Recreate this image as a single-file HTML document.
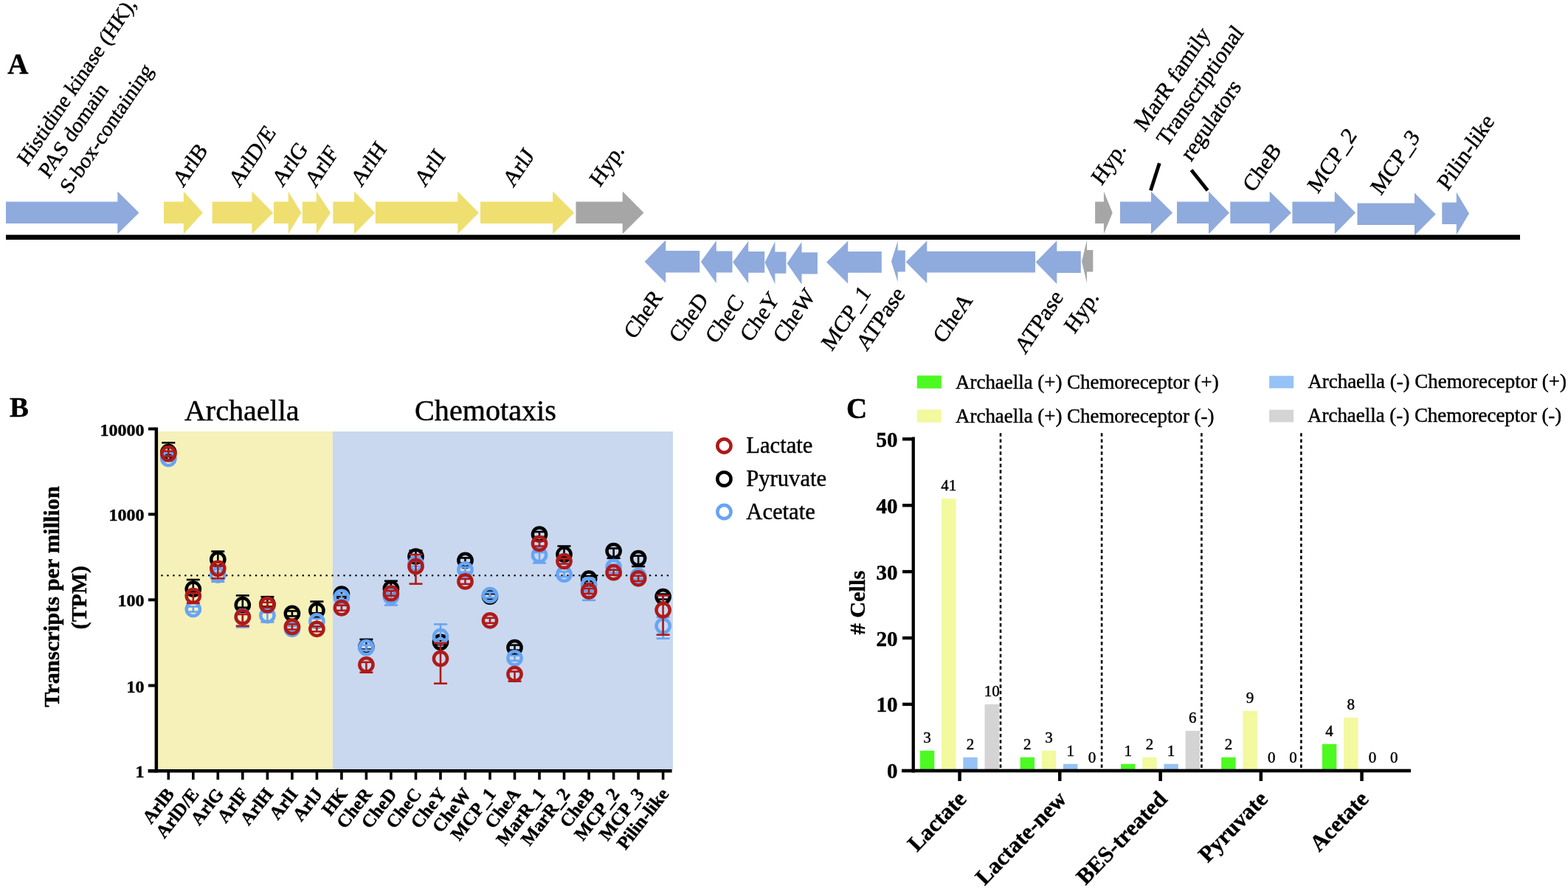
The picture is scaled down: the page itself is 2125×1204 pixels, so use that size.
<!DOCTYPE html>
<html><head><meta charset="utf-8"><title>Figure</title>
<style>html,body{margin:0;padding:0;background:#fff;}svg{display:block;}</style>
</head><body>
<svg width="2125" height="1204" viewBox="0 0 2125 1204">
<rect width="2125" height="1204" fill="#fff"/>
<polygon fill="#8FAADC" points="8.0,273.5 159.3,273.5 159.3,259.5 188.5,288.4 159.3,317.3 159.3,303.1 8.0,303.1"/>
<polygon fill="#EFDF70" points="222.0,273.5 248.8,273.5 248.8,259.5 274.9,288.4 248.8,317.3 248.8,303.1 222.0,303.1"/>
<polygon fill="#EFDF70" points="287.6,273.5 341.4,273.5 341.4,259.5 370.2,288.4 341.4,317.3 341.4,303.1 287.6,303.1"/>
<polygon fill="#EFDF70" points="371.0,273.5 390.7,273.5 390.7,259.5 408.3,288.4 390.7,317.3 390.7,303.1 371.0,303.1"/>
<polygon fill="#EFDF70" points="409.8,273.5 428.8,273.5 428.8,259.5 448.0,288.4 428.8,317.3 428.8,303.1 409.8,303.1"/>
<polygon fill="#EFDF70" points="451.3,273.5 480.0,273.5 480.0,259.5 508.2,288.4 480.0,317.3 480.0,303.1 451.3,303.1"/>
<polygon fill="#EFDF70" points="508.8,273.5 620.3,273.5 620.3,259.5 648.9,288.4 620.3,317.3 620.3,303.1 508.8,303.1"/>
<polygon fill="#EFDF70" points="651.0,273.5 749.1,273.5 749.1,259.5 778.1,288.4 749.1,317.3 749.1,303.1 651.0,303.1"/>
<polygon fill="#A6A6A6" points="780.5,273.5 843.7,273.5 843.7,259.5 872.5,288.4 843.7,317.3 843.7,303.1 780.5,303.1"/>
<polygon fill="#A6A6A6" points="1484.1,273.5 1495.9,273.5 1495.9,259.5 1507.7,288.4 1495.9,317.3 1495.9,303.1 1484.1,303.1"/>
<polygon fill="#8FAADC" points="1518.0,273.5 1559.9,273.5 1559.9,259.5 1589.2,288.4 1559.9,317.3 1559.9,303.1 1518.0,303.1"/>
<polygon fill="#8FAADC" points="1595.0,273.5 1638.0,273.5 1638.0,259.5 1666.0,288.4 1638.0,317.3 1638.0,303.1 1595.0,303.1"/>
<polygon fill="#8FAADC" points="1667.3,273.5 1720.7,273.5 1720.7,259.5 1750.0,288.4 1720.7,317.3 1720.7,303.1 1667.3,303.1"/>
<polygon fill="#8FAADC" points="1751.4,273.5 1808.8,273.5 1808.8,259.5 1837.0,288.4 1808.8,317.3 1808.8,303.1 1751.4,303.1"/>
<polygon fill="#8FAADC" points="1839.5,275.5 1917.0,275.5 1917.0,261.5 1945.7,290.4 1917.0,319.3 1917.0,305.1 1839.5,305.1"/>
<polygon fill="#8FAADC" points="1954.3,274.5 1973.8,274.5 1973.8,260.5 1991.0,289.4 1973.8,318.3 1973.8,304.1 1954.3,304.1"/>
<polygon fill="#8FAADC" points="948.2,339.9 902.2,339.9 902.2,325.6 873.6,354.7 902.2,383.8 902.2,369.4 948.2,369.4"/>
<polygon fill="#8FAADC" points="992.5,340.5 970.8,340.5 970.8,326.2 949.8,355.1 970.8,384.0 970.8,369.5 992.5,369.5"/>
<polygon fill="#8FAADC" points="1036.2,341.1 1014.2,341.1 1014.2,326.9 993.1,355.5 1014.2,384.2 1014.2,369.7 1036.2,369.7"/>
<polygon fill="#8FAADC" points="1065.4,341.4 1050.4,341.4 1050.4,327.2 1036.5,356.0 1050.4,384.9 1050.4,370.7 1065.4,370.7"/>
<polygon fill="#8FAADC" points="1107.9,342.2 1086.5,342.2 1086.5,328.0 1066.6,356.9 1086.5,385.7 1086.5,371.5 1107.9,371.5"/>
<polygon fill="#8FAADC" points="1194.8,341.1 1149.2,341.1 1149.2,326.8 1120.0,355.6 1149.2,384.4 1149.2,369.7 1194.8,369.7"/>
<polygon fill="#8FAADC" points="1226.8,339.6 1216.7,339.6 1216.7,326.4 1207.9,354.4 1216.7,382.5 1216.7,368.6 1226.8,368.6"/>
<polygon fill="#8FAADC" points="1403.0,340.7 1256.3,340.7 1256.3,326.4 1227.6,355.2 1256.3,384.0 1256.3,369.6 1403.0,369.6"/>
<polygon fill="#8FAADC" points="1464.8,340.4 1432.3,340.4 1432.3,326.3 1403.6,355.6 1432.3,384.9 1432.3,370.0 1464.8,370.0"/>
<polygon fill="#A6A6A6" points="1481.3,339.0 1473.0,339.0 1473.0,325.5 1466.0,354.6 1473.0,383.7 1473.0,368.6 1481.3,368.6"/>
<rect x="8" y="318.4" width="2052" height="6.6" fill="#000"/>
<line x1="1571.3" y1="221.2" x2="1559.4" y2="258.3" stroke="#000" stroke-width="4.8"/>
<line x1="1614.5" y1="230.5" x2="1636.6" y2="258.2" stroke="#000" stroke-width="4.8"/>
<rect x="214" y="585" width="236.8" height="458.5" fill="#F5F1B9"/>
<rect x="450.8" y="585" width="461.2" height="458.5" fill="#C9D8EE"/>
<line x1="219.5" y1="780.3" x2="912" y2="780.3" stroke="#000" stroke-width="2.6" stroke-linecap="round" stroke-dasharray="0 7.97"/>
<line x1="228.3" y1="600.3" x2="228.3" y2="616.7" stroke="#000000" stroke-width="2.6"/>
<line x1="219.3" y1="600.3" x2="237.3" y2="600.3" stroke="#000000" stroke-width="2.6"/>
<line x1="219.3" y1="616.7" x2="237.3" y2="616.7" stroke="#000000" stroke-width="2.6"/>
<circle cx="228.3" cy="613.2" r="9.1" fill="none" stroke="#000000" stroke-width="4.5"/>
<line x1="228.3" y1="618.4" x2="228.3" y2="625.4" stroke="#67A4F3" stroke-width="2.6"/>
<line x1="219.3" y1="618.4" x2="237.3" y2="618.4" stroke="#67A4F3" stroke-width="2.6"/>
<line x1="219.3" y1="625.4" x2="237.3" y2="625.4" stroke="#67A4F3" stroke-width="2.6"/>
<circle cx="228.3" cy="621.9" r="9.1" fill="none" stroke="#67A4F3" stroke-width="4.5"/>
<line x1="228.3" y1="611.7" x2="228.3" y2="618.7" stroke="#AF1A19" stroke-width="2.6"/>
<line x1="219.3" y1="611.7" x2="237.3" y2="611.7" stroke="#AF1A19" stroke-width="2.6"/>
<line x1="219.3" y1="618.7" x2="237.3" y2="618.7" stroke="#AF1A19" stroke-width="2.6"/>
<circle cx="228.3" cy="615.2" r="9.1" fill="none" stroke="#AF1A19" stroke-width="4.5"/>
<line x1="261.8" y1="786.0" x2="261.8" y2="802.2" stroke="#000000" stroke-width="2.6"/>
<line x1="252.8" y1="786.0" x2="270.8" y2="786.0" stroke="#000000" stroke-width="2.6"/>
<line x1="252.8" y1="802.2" x2="270.8" y2="802.2" stroke="#000000" stroke-width="2.6"/>
<circle cx="261.8" cy="798.7" r="9.1" fill="none" stroke="#000000" stroke-width="4.5"/>
<line x1="261.8" y1="822.5" x2="261.8" y2="829.5" stroke="#67A4F3" stroke-width="2.6"/>
<line x1="252.8" y1="822.5" x2="270.8" y2="822.5" stroke="#67A4F3" stroke-width="2.6"/>
<line x1="252.8" y1="829.5" x2="270.8" y2="829.5" stroke="#67A4F3" stroke-width="2.6"/>
<circle cx="261.8" cy="826.0" r="9.1" fill="none" stroke="#67A4F3" stroke-width="4.5"/>
<line x1="261.8" y1="804.5" x2="261.8" y2="817.7" stroke="#AF1A19" stroke-width="2.6"/>
<line x1="252.8" y1="804.5" x2="270.8" y2="804.5" stroke="#AF1A19" stroke-width="2.6"/>
<line x1="252.8" y1="817.7" x2="270.8" y2="817.7" stroke="#AF1A19" stroke-width="2.6"/>
<circle cx="261.8" cy="808.0" r="9.1" fill="none" stroke="#AF1A19" stroke-width="4.5"/>
<line x1="295.3" y1="747.6" x2="295.3" y2="762.1" stroke="#000000" stroke-width="2.6"/>
<line x1="286.3" y1="747.6" x2="304.3" y2="747.6" stroke="#000000" stroke-width="2.6"/>
<line x1="286.3" y1="762.1" x2="304.3" y2="762.1" stroke="#000000" stroke-width="2.6"/>
<circle cx="295.3" cy="758.6" r="9.1" fill="none" stroke="#000000" stroke-width="4.5"/>
<line x1="295.3" y1="776.0" x2="295.3" y2="788.8" stroke="#67A4F3" stroke-width="2.6"/>
<line x1="286.3" y1="776.0" x2="304.3" y2="776.0" stroke="#67A4F3" stroke-width="2.6"/>
<line x1="286.3" y1="788.8" x2="304.3" y2="788.8" stroke="#67A4F3" stroke-width="2.6"/>
<circle cx="295.3" cy="779.5" r="9.1" fill="none" stroke="#67A4F3" stroke-width="4.5"/>
<line x1="295.3" y1="767.3" x2="295.3" y2="784.2" stroke="#AF1A19" stroke-width="2.6"/>
<line x1="286.3" y1="767.3" x2="304.3" y2="767.3" stroke="#AF1A19" stroke-width="2.6"/>
<line x1="286.3" y1="784.2" x2="304.3" y2="784.2" stroke="#AF1A19" stroke-width="2.6"/>
<circle cx="295.3" cy="770.8" r="9.1" fill="none" stroke="#AF1A19" stroke-width="4.5"/>
<line x1="328.8" y1="807.4" x2="328.8" y2="823.7" stroke="#000000" stroke-width="2.6"/>
<line x1="319.8" y1="807.4" x2="337.8" y2="807.4" stroke="#000000" stroke-width="2.6"/>
<line x1="319.8" y1="823.7" x2="337.8" y2="823.7" stroke="#000000" stroke-width="2.6"/>
<circle cx="328.8" cy="820.2" r="9.1" fill="none" stroke="#000000" stroke-width="4.5"/>
<line x1="328.8" y1="832.5" x2="328.8" y2="850.5" stroke="#67A4F3" stroke-width="2.6"/>
<line x1="319.8" y1="832.5" x2="337.8" y2="832.5" stroke="#67A4F3" stroke-width="2.6"/>
<line x1="319.8" y1="850.5" x2="337.8" y2="850.5" stroke="#67A4F3" stroke-width="2.6"/>
<circle cx="328.8" cy="836.0" r="9.1" fill="none" stroke="#67A4F3" stroke-width="4.5"/>
<line x1="328.8" y1="833.0" x2="328.8" y2="848.7" stroke="#AF1A19" stroke-width="2.6"/>
<line x1="319.8" y1="833.0" x2="337.8" y2="833.0" stroke="#AF1A19" stroke-width="2.6"/>
<line x1="319.8" y1="848.7" x2="337.8" y2="848.7" stroke="#AF1A19" stroke-width="2.6"/>
<circle cx="328.8" cy="836.5" r="9.1" fill="none" stroke="#AF1A19" stroke-width="4.5"/>
<line x1="362.4" y1="809.2" x2="362.4" y2="822.5" stroke="#000000" stroke-width="2.6"/>
<line x1="353.4" y1="809.2" x2="371.4" y2="809.2" stroke="#000000" stroke-width="2.6"/>
<line x1="353.4" y1="822.5" x2="371.4" y2="822.5" stroke="#000000" stroke-width="2.6"/>
<circle cx="362.4" cy="819.0" r="9.1" fill="none" stroke="#000000" stroke-width="4.5"/>
<line x1="362.4" y1="830.7" x2="362.4" y2="843.5" stroke="#67A4F3" stroke-width="2.6"/>
<line x1="353.4" y1="830.7" x2="371.4" y2="830.7" stroke="#67A4F3" stroke-width="2.6"/>
<line x1="353.4" y1="843.5" x2="371.4" y2="843.5" stroke="#67A4F3" stroke-width="2.6"/>
<circle cx="362.4" cy="834.2" r="9.1" fill="none" stroke="#67A4F3" stroke-width="4.5"/>
<line x1="362.4" y1="816.7" x2="362.4" y2="823.7" stroke="#AF1A19" stroke-width="2.6"/>
<line x1="353.4" y1="816.7" x2="371.4" y2="816.7" stroke="#AF1A19" stroke-width="2.6"/>
<line x1="353.4" y1="823.7" x2="371.4" y2="823.7" stroke="#AF1A19" stroke-width="2.6"/>
<circle cx="362.4" cy="820.2" r="9.1" fill="none" stroke="#AF1A19" stroke-width="4.5"/>
<line x1="395.9" y1="828.4" x2="395.9" y2="835.4" stroke="#000000" stroke-width="2.6"/>
<line x1="386.9" y1="828.4" x2="404.9" y2="828.4" stroke="#000000" stroke-width="2.6"/>
<line x1="386.9" y1="835.4" x2="404.9" y2="835.4" stroke="#000000" stroke-width="2.6"/>
<circle cx="395.9" cy="831.9" r="9.1" fill="none" stroke="#000000" stroke-width="4.5"/>
<line x1="395.9" y1="849.3" x2="395.9" y2="856.3" stroke="#67A4F3" stroke-width="2.6"/>
<line x1="386.9" y1="849.3" x2="404.9" y2="849.3" stroke="#67A4F3" stroke-width="2.6"/>
<line x1="386.9" y1="856.3" x2="404.9" y2="856.3" stroke="#67A4F3" stroke-width="2.6"/>
<circle cx="395.9" cy="852.8" r="9.1" fill="none" stroke="#67A4F3" stroke-width="4.5"/>
<line x1="395.9" y1="846.4" x2="395.9" y2="853.4" stroke="#AF1A19" stroke-width="2.6"/>
<line x1="386.9" y1="846.4" x2="404.9" y2="846.4" stroke="#AF1A19" stroke-width="2.6"/>
<line x1="386.9" y1="853.4" x2="404.9" y2="853.4" stroke="#AF1A19" stroke-width="2.6"/>
<circle cx="395.9" cy="849.9" r="9.1" fill="none" stroke="#AF1A19" stroke-width="4.5"/>
<line x1="429.4" y1="815.6" x2="429.4" y2="831.3" stroke="#000000" stroke-width="2.6"/>
<line x1="420.4" y1="815.6" x2="438.4" y2="815.6" stroke="#000000" stroke-width="2.6"/>
<line x1="420.4" y1="831.3" x2="438.4" y2="831.3" stroke="#000000" stroke-width="2.6"/>
<circle cx="429.4" cy="827.8" r="9.1" fill="none" stroke="#000000" stroke-width="4.5"/>
<line x1="429.4" y1="838.8" x2="429.4" y2="845.8" stroke="#67A4F3" stroke-width="2.6"/>
<line x1="420.4" y1="838.8" x2="438.4" y2="838.8" stroke="#67A4F3" stroke-width="2.6"/>
<line x1="420.4" y1="845.8" x2="438.4" y2="845.8" stroke="#67A4F3" stroke-width="2.6"/>
<circle cx="429.4" cy="842.3" r="9.1" fill="none" stroke="#67A4F3" stroke-width="4.5"/>
<line x1="429.4" y1="849.3" x2="429.4" y2="856.3" stroke="#AF1A19" stroke-width="2.6"/>
<line x1="420.4" y1="849.3" x2="438.4" y2="849.3" stroke="#AF1A19" stroke-width="2.6"/>
<line x1="420.4" y1="856.3" x2="438.4" y2="856.3" stroke="#AF1A19" stroke-width="2.6"/>
<circle cx="429.4" cy="852.8" r="9.1" fill="none" stroke="#AF1A19" stroke-width="4.5"/>
<line x1="462.9" y1="802.0" x2="462.9" y2="809.0" stroke="#000000" stroke-width="2.6"/>
<line x1="453.9" y1="802.0" x2="471.9" y2="802.0" stroke="#000000" stroke-width="2.6"/>
<line x1="453.9" y1="809.0" x2="471.9" y2="809.0" stroke="#000000" stroke-width="2.6"/>
<circle cx="462.9" cy="805.5" r="9.1" fill="none" stroke="#000000" stroke-width="4.5"/>
<line x1="462.9" y1="806.3" x2="462.9" y2="813.3" stroke="#67A4F3" stroke-width="2.6"/>
<line x1="453.9" y1="806.3" x2="471.9" y2="806.3" stroke="#67A4F3" stroke-width="2.6"/>
<line x1="453.9" y1="813.3" x2="471.9" y2="813.3" stroke="#67A4F3" stroke-width="2.6"/>
<circle cx="462.9" cy="809.8" r="9.1" fill="none" stroke="#67A4F3" stroke-width="4.5"/>
<line x1="462.9" y1="820.8" x2="462.9" y2="827.8" stroke="#AF1A19" stroke-width="2.6"/>
<line x1="453.9" y1="820.8" x2="471.9" y2="820.8" stroke="#AF1A19" stroke-width="2.6"/>
<line x1="453.9" y1="827.8" x2="471.9" y2="827.8" stroke="#AF1A19" stroke-width="2.6"/>
<circle cx="462.9" cy="824.3" r="9.1" fill="none" stroke="#AF1A19" stroke-width="4.5"/>
<line x1="496.4" y1="866.9" x2="496.4" y2="880.5" stroke="#000000" stroke-width="2.6"/>
<line x1="487.4" y1="866.9" x2="505.4" y2="866.9" stroke="#000000" stroke-width="2.6"/>
<line x1="487.4" y1="880.5" x2="505.4" y2="880.5" stroke="#000000" stroke-width="2.6"/>
<circle cx="496.4" cy="877.0" r="9.1" fill="none" stroke="#000000" stroke-width="4.5"/>
<line x1="496.4" y1="874.6" x2="496.4" y2="881.6" stroke="#67A4F3" stroke-width="2.6"/>
<line x1="487.4" y1="874.6" x2="505.4" y2="874.6" stroke="#67A4F3" stroke-width="2.6"/>
<line x1="487.4" y1="881.6" x2="505.4" y2="881.6" stroke="#67A4F3" stroke-width="2.6"/>
<circle cx="496.4" cy="878.1" r="9.1" fill="none" stroke="#67A4F3" stroke-width="4.5"/>
<line x1="496.4" y1="897.8" x2="496.4" y2="911.7" stroke="#AF1A19" stroke-width="2.6"/>
<line x1="487.4" y1="897.8" x2="505.4" y2="897.8" stroke="#AF1A19" stroke-width="2.6"/>
<line x1="487.4" y1="911.7" x2="505.4" y2="911.7" stroke="#AF1A19" stroke-width="2.6"/>
<circle cx="496.4" cy="901.3" r="9.1" fill="none" stroke="#AF1A19" stroke-width="4.5"/>
<line x1="529.9" y1="787.7" x2="529.9" y2="801.5" stroke="#000000" stroke-width="2.6"/>
<line x1="520.9" y1="787.7" x2="538.9" y2="787.7" stroke="#000000" stroke-width="2.6"/>
<line x1="520.9" y1="801.5" x2="538.9" y2="801.5" stroke="#000000" stroke-width="2.6"/>
<circle cx="529.9" cy="798.0" r="9.1" fill="none" stroke="#000000" stroke-width="4.5"/>
<line x1="529.9" y1="805.5" x2="529.9" y2="820.5" stroke="#67A4F3" stroke-width="2.6"/>
<line x1="520.9" y1="805.5" x2="538.9" y2="805.5" stroke="#67A4F3" stroke-width="2.6"/>
<line x1="520.9" y1="820.5" x2="538.9" y2="820.5" stroke="#67A4F3" stroke-width="2.6"/>
<circle cx="529.9" cy="809.0" r="9.1" fill="none" stroke="#67A4F3" stroke-width="4.5"/>
<line x1="529.9" y1="801.0" x2="529.9" y2="808.0" stroke="#AF1A19" stroke-width="2.6"/>
<line x1="520.9" y1="801.0" x2="538.9" y2="801.0" stroke="#AF1A19" stroke-width="2.6"/>
<line x1="520.9" y1="808.0" x2="538.9" y2="808.0" stroke="#AF1A19" stroke-width="2.6"/>
<circle cx="529.9" cy="804.5" r="9.1" fill="none" stroke="#AF1A19" stroke-width="4.5"/>
<line x1="563.5" y1="746.5" x2="563.5" y2="758.0" stroke="#000000" stroke-width="2.6"/>
<line x1="554.5" y1="746.5" x2="572.5" y2="746.5" stroke="#000000" stroke-width="2.6"/>
<line x1="554.5" y1="758.0" x2="572.5" y2="758.0" stroke="#000000" stroke-width="2.6"/>
<circle cx="563.5" cy="754.5" r="9.1" fill="none" stroke="#000000" stroke-width="4.5"/>
<line x1="563.5" y1="760.9" x2="563.5" y2="767.9" stroke="#67A4F3" stroke-width="2.6"/>
<line x1="554.5" y1="760.9" x2="572.5" y2="760.9" stroke="#67A4F3" stroke-width="2.6"/>
<line x1="554.5" y1="767.9" x2="572.5" y2="767.9" stroke="#67A4F3" stroke-width="2.6"/>
<circle cx="563.5" cy="764.4" r="9.1" fill="none" stroke="#67A4F3" stroke-width="4.5"/>
<line x1="563.5" y1="752.0" x2="563.5" y2="791.6" stroke="#AF1A19" stroke-width="2.6"/>
<line x1="554.5" y1="752.0" x2="572.5" y2="752.0" stroke="#AF1A19" stroke-width="2.6"/>
<line x1="554.5" y1="791.6" x2="572.5" y2="791.6" stroke="#AF1A19" stroke-width="2.6"/>
<circle cx="563.5" cy="768.0" r="9.1" fill="none" stroke="#AF1A19" stroke-width="4.5"/>
<line x1="597.0" y1="867.1" x2="597.0" y2="874.1" stroke="#000000" stroke-width="2.6"/>
<line x1="588.0" y1="867.1" x2="606.0" y2="867.1" stroke="#000000" stroke-width="2.6"/>
<line x1="588.0" y1="874.1" x2="606.0" y2="874.1" stroke="#000000" stroke-width="2.6"/>
<circle cx="597.0" cy="870.6" r="9.1" fill="none" stroke="#000000" stroke-width="4.5"/>
<line x1="597.0" y1="846.4" x2="597.0" y2="866.7" stroke="#67A4F3" stroke-width="2.6"/>
<line x1="588.0" y1="846.4" x2="606.0" y2="846.4" stroke="#67A4F3" stroke-width="2.6"/>
<line x1="588.0" y1="866.7" x2="606.0" y2="866.7" stroke="#67A4F3" stroke-width="2.6"/>
<circle cx="597.0" cy="863.2" r="9.1" fill="none" stroke="#67A4F3" stroke-width="4.5"/>
<line x1="597.0" y1="872.0" x2="597.0" y2="926.7" stroke="#AF1A19" stroke-width="2.6"/>
<line x1="588.0" y1="872.0" x2="606.0" y2="872.0" stroke="#AF1A19" stroke-width="2.6"/>
<line x1="588.0" y1="926.7" x2="606.0" y2="926.7" stroke="#AF1A19" stroke-width="2.6"/>
<circle cx="597.0" cy="893.0" r="9.1" fill="none" stroke="#AF1A19" stroke-width="4.5"/>
<line x1="630.5" y1="756.4" x2="630.5" y2="763.4" stroke="#000000" stroke-width="2.6"/>
<line x1="621.5" y1="756.4" x2="639.5" y2="756.4" stroke="#000000" stroke-width="2.6"/>
<line x1="621.5" y1="763.4" x2="639.5" y2="763.4" stroke="#000000" stroke-width="2.6"/>
<circle cx="630.5" cy="759.9" r="9.1" fill="none" stroke="#000000" stroke-width="4.5"/>
<line x1="630.5" y1="768.9" x2="630.5" y2="775.9" stroke="#67A4F3" stroke-width="2.6"/>
<line x1="621.5" y1="768.9" x2="639.5" y2="768.9" stroke="#67A4F3" stroke-width="2.6"/>
<line x1="621.5" y1="775.9" x2="639.5" y2="775.9" stroke="#67A4F3" stroke-width="2.6"/>
<circle cx="630.5" cy="772.4" r="9.1" fill="none" stroke="#67A4F3" stroke-width="4.5"/>
<line x1="630.5" y1="784.9" x2="630.5" y2="791.9" stroke="#AF1A19" stroke-width="2.6"/>
<line x1="621.5" y1="784.9" x2="639.5" y2="784.9" stroke="#AF1A19" stroke-width="2.6"/>
<line x1="621.5" y1="791.9" x2="639.5" y2="791.9" stroke="#AF1A19" stroke-width="2.6"/>
<circle cx="630.5" cy="788.4" r="9.1" fill="none" stroke="#AF1A19" stroke-width="4.5"/>
<line x1="664.0" y1="805.1" x2="664.0" y2="812.1" stroke="#000000" stroke-width="2.6"/>
<line x1="655.0" y1="805.1" x2="673.0" y2="805.1" stroke="#000000" stroke-width="2.6"/>
<line x1="655.0" y1="812.1" x2="673.0" y2="812.1" stroke="#000000" stroke-width="2.6"/>
<circle cx="664.0" cy="808.6" r="9.1" fill="none" stroke="#000000" stroke-width="4.5"/>
<line x1="664.0" y1="803.5" x2="664.0" y2="810.5" stroke="#67A4F3" stroke-width="2.6"/>
<line x1="655.0" y1="803.5" x2="673.0" y2="803.5" stroke="#67A4F3" stroke-width="2.6"/>
<line x1="655.0" y1="810.5" x2="673.0" y2="810.5" stroke="#67A4F3" stroke-width="2.6"/>
<circle cx="664.0" cy="807.0" r="9.1" fill="none" stroke="#67A4F3" stroke-width="4.5"/>
<line x1="664.0" y1="837.8" x2="664.0" y2="844.8" stroke="#AF1A19" stroke-width="2.6"/>
<line x1="655.0" y1="837.8" x2="673.0" y2="837.8" stroke="#AF1A19" stroke-width="2.6"/>
<line x1="655.0" y1="844.8" x2="673.0" y2="844.8" stroke="#AF1A19" stroke-width="2.6"/>
<circle cx="664.0" cy="841.3" r="9.1" fill="none" stroke="#AF1A19" stroke-width="4.5"/>
<line x1="697.5" y1="874.6" x2="697.5" y2="881.6" stroke="#000000" stroke-width="2.6"/>
<line x1="688.5" y1="874.6" x2="706.5" y2="874.6" stroke="#000000" stroke-width="2.6"/>
<line x1="688.5" y1="881.6" x2="706.5" y2="881.6" stroke="#000000" stroke-width="2.6"/>
<circle cx="697.5" cy="878.1" r="9.1" fill="none" stroke="#000000" stroke-width="4.5"/>
<line x1="697.5" y1="888.8" x2="697.5" y2="895.8" stroke="#67A4F3" stroke-width="2.6"/>
<line x1="688.5" y1="888.8" x2="706.5" y2="888.8" stroke="#67A4F3" stroke-width="2.6"/>
<line x1="688.5" y1="895.8" x2="706.5" y2="895.8" stroke="#67A4F3" stroke-width="2.6"/>
<circle cx="697.5" cy="892.3" r="9.1" fill="none" stroke="#67A4F3" stroke-width="4.5"/>
<line x1="697.5" y1="910.5" x2="697.5" y2="923.7" stroke="#AF1A19" stroke-width="2.6"/>
<line x1="688.5" y1="910.5" x2="706.5" y2="910.5" stroke="#AF1A19" stroke-width="2.6"/>
<line x1="688.5" y1="923.7" x2="706.5" y2="923.7" stroke="#AF1A19" stroke-width="2.6"/>
<circle cx="697.5" cy="914.0" r="9.1" fill="none" stroke="#AF1A19" stroke-width="4.5"/>
<line x1="731.0" y1="721.0" x2="731.0" y2="728.0" stroke="#000000" stroke-width="2.6"/>
<line x1="722.0" y1="721.0" x2="740.0" y2="721.0" stroke="#000000" stroke-width="2.6"/>
<line x1="722.0" y1="728.0" x2="740.0" y2="728.0" stroke="#000000" stroke-width="2.6"/>
<circle cx="731.0" cy="724.5" r="9.1" fill="none" stroke="#000000" stroke-width="4.5"/>
<line x1="731.0" y1="749.0" x2="731.0" y2="763.3" stroke="#67A4F3" stroke-width="2.6"/>
<line x1="722.0" y1="749.0" x2="740.0" y2="749.0" stroke="#67A4F3" stroke-width="2.6"/>
<line x1="722.0" y1="763.3" x2="740.0" y2="763.3" stroke="#67A4F3" stroke-width="2.6"/>
<circle cx="731.0" cy="752.5" r="9.1" fill="none" stroke="#67A4F3" stroke-width="4.5"/>
<line x1="731.0" y1="733.5" x2="731.0" y2="740.5" stroke="#AF1A19" stroke-width="2.6"/>
<line x1="722.0" y1="733.5" x2="740.0" y2="733.5" stroke="#AF1A19" stroke-width="2.6"/>
<line x1="722.0" y1="740.5" x2="740.0" y2="740.5" stroke="#AF1A19" stroke-width="2.6"/>
<circle cx="731.0" cy="737.0" r="9.1" fill="none" stroke="#AF1A19" stroke-width="4.5"/>
<line x1="764.5" y1="740.5" x2="764.5" y2="755.2" stroke="#000000" stroke-width="2.6"/>
<line x1="755.5" y1="740.5" x2="773.5" y2="740.5" stroke="#000000" stroke-width="2.6"/>
<line x1="755.5" y1="755.2" x2="773.5" y2="755.2" stroke="#000000" stroke-width="2.6"/>
<circle cx="764.5" cy="751.7" r="9.1" fill="none" stroke="#000000" stroke-width="4.5"/>
<line x1="764.5" y1="775.1" x2="764.5" y2="782.1" stroke="#67A4F3" stroke-width="2.6"/>
<line x1="755.5" y1="775.1" x2="773.5" y2="775.1" stroke="#67A4F3" stroke-width="2.6"/>
<line x1="755.5" y1="782.1" x2="773.5" y2="782.1" stroke="#67A4F3" stroke-width="2.6"/>
<circle cx="764.5" cy="778.6" r="9.1" fill="none" stroke="#67A4F3" stroke-width="4.5"/>
<line x1="764.5" y1="757.5" x2="764.5" y2="764.5" stroke="#AF1A19" stroke-width="2.6"/>
<line x1="755.5" y1="757.5" x2="773.5" y2="757.5" stroke="#AF1A19" stroke-width="2.6"/>
<line x1="755.5" y1="764.5" x2="773.5" y2="764.5" stroke="#AF1A19" stroke-width="2.6"/>
<circle cx="764.5" cy="761.0" r="9.1" fill="none" stroke="#AF1A19" stroke-width="4.5"/>
<line x1="798.1" y1="781.2" x2="798.1" y2="788.2" stroke="#000000" stroke-width="2.6"/>
<line x1="789.1" y1="781.2" x2="807.1" y2="781.2" stroke="#000000" stroke-width="2.6"/>
<line x1="789.1" y1="788.2" x2="807.1" y2="788.2" stroke="#000000" stroke-width="2.6"/>
<circle cx="798.1" cy="784.7" r="9.1" fill="none" stroke="#000000" stroke-width="4.5"/>
<line x1="798.1" y1="785.0" x2="798.1" y2="813.8" stroke="#67A4F3" stroke-width="2.6"/>
<line x1="789.1" y1="785.0" x2="807.1" y2="785.0" stroke="#67A4F3" stroke-width="2.6"/>
<line x1="789.1" y1="813.8" x2="807.1" y2="813.8" stroke="#67A4F3" stroke-width="2.6"/>
<circle cx="798.1" cy="793.0" r="9.1" fill="none" stroke="#67A4F3" stroke-width="4.5"/>
<line x1="798.1" y1="797.9" x2="798.1" y2="804.9" stroke="#AF1A19" stroke-width="2.6"/>
<line x1="789.1" y1="797.9" x2="807.1" y2="797.9" stroke="#AF1A19" stroke-width="2.6"/>
<line x1="789.1" y1="804.9" x2="807.1" y2="804.9" stroke="#AF1A19" stroke-width="2.6"/>
<circle cx="798.1" cy="801.4" r="9.1" fill="none" stroke="#AF1A19" stroke-width="4.5"/>
<line x1="831.6" y1="743.5" x2="831.6" y2="756.8" stroke="#000000" stroke-width="2.6"/>
<line x1="822.6" y1="743.5" x2="840.6" y2="743.5" stroke="#000000" stroke-width="2.6"/>
<line x1="822.6" y1="756.8" x2="840.6" y2="756.8" stroke="#000000" stroke-width="2.6"/>
<circle cx="831.6" cy="747.0" r="9.1" fill="none" stroke="#000000" stroke-width="4.5"/>
<line x1="831.6" y1="765.3" x2="831.6" y2="772.3" stroke="#67A4F3" stroke-width="2.6"/>
<line x1="822.6" y1="765.3" x2="840.6" y2="765.3" stroke="#67A4F3" stroke-width="2.6"/>
<line x1="822.6" y1="772.3" x2="840.6" y2="772.3" stroke="#67A4F3" stroke-width="2.6"/>
<circle cx="831.6" cy="768.8" r="9.1" fill="none" stroke="#67A4F3" stroke-width="4.5"/>
<line x1="831.6" y1="772.7" x2="831.6" y2="779.7" stroke="#AF1A19" stroke-width="2.6"/>
<line x1="822.6" y1="772.7" x2="840.6" y2="772.7" stroke="#AF1A19" stroke-width="2.6"/>
<line x1="822.6" y1="779.7" x2="840.6" y2="779.7" stroke="#AF1A19" stroke-width="2.6"/>
<circle cx="831.6" cy="776.2" r="9.1" fill="none" stroke="#AF1A19" stroke-width="4.5"/>
<line x1="865.1" y1="753.6" x2="865.1" y2="768.0" stroke="#000000" stroke-width="2.6"/>
<line x1="856.1" y1="753.6" x2="874.1" y2="753.6" stroke="#000000" stroke-width="2.6"/>
<line x1="856.1" y1="768.0" x2="874.1" y2="768.0" stroke="#000000" stroke-width="2.6"/>
<circle cx="865.1" cy="757.1" r="9.1" fill="none" stroke="#000000" stroke-width="4.5"/>
<line x1="865.1" y1="777.5" x2="865.1" y2="784.5" stroke="#67A4F3" stroke-width="2.6"/>
<line x1="856.1" y1="777.5" x2="874.1" y2="777.5" stroke="#67A4F3" stroke-width="2.6"/>
<line x1="856.1" y1="784.5" x2="874.1" y2="784.5" stroke="#67A4F3" stroke-width="2.6"/>
<circle cx="865.1" cy="781.0" r="9.1" fill="none" stroke="#67A4F3" stroke-width="4.5"/>
<line x1="865.1" y1="780.8" x2="865.1" y2="787.8" stroke="#AF1A19" stroke-width="2.6"/>
<line x1="856.1" y1="780.8" x2="874.1" y2="780.8" stroke="#AF1A19" stroke-width="2.6"/>
<line x1="856.1" y1="787.8" x2="874.1" y2="787.8" stroke="#AF1A19" stroke-width="2.6"/>
<circle cx="865.1" cy="784.3" r="9.1" fill="none" stroke="#AF1A19" stroke-width="4.5"/>
<line x1="898.6" y1="805.6" x2="898.6" y2="812.6" stroke="#000000" stroke-width="2.6"/>
<line x1="889.6" y1="805.6" x2="907.6" y2="805.6" stroke="#000000" stroke-width="2.6"/>
<line x1="889.6" y1="812.6" x2="907.6" y2="812.6" stroke="#000000" stroke-width="2.6"/>
<circle cx="898.6" cy="809.1" r="9.1" fill="none" stroke="#000000" stroke-width="4.5"/>
<line x1="898.6" y1="836.8" x2="898.6" y2="865.7" stroke="#67A4F3" stroke-width="2.6"/>
<line x1="889.6" y1="836.8" x2="907.6" y2="836.8" stroke="#67A4F3" stroke-width="2.6"/>
<line x1="889.6" y1="865.7" x2="907.6" y2="865.7" stroke="#67A4F3" stroke-width="2.6"/>
<circle cx="898.6" cy="848.6" r="9.1" fill="none" stroke="#67A4F3" stroke-width="4.5"/>
<line x1="898.6" y1="807.4" x2="898.6" y2="860.7" stroke="#AF1A19" stroke-width="2.6"/>
<line x1="889.6" y1="807.4" x2="907.6" y2="807.4" stroke="#AF1A19" stroke-width="2.6"/>
<line x1="889.6" y1="860.7" x2="907.6" y2="860.7" stroke="#AF1A19" stroke-width="2.6"/>
<circle cx="898.6" cy="827.1" r="9.1" fill="none" stroke="#AF1A19" stroke-width="4.5"/>
<rect x="209.6" y="579.5" width="4.5" height="468" fill="#000"/>
<rect x="201" y="579.5" width="10" height="4" fill="#000"/>
<rect x="201" y="695.3" width="10" height="4" fill="#000"/>
<rect x="201" y="811.3" width="10" height="4" fill="#000"/>
<rect x="201" y="927.5" width="10" height="4" fill="#000"/>
<rect x="201" y="1043.3" width="10" height="4" fill="#000"/>
<rect x="200.6" y="1043" width="710" height="4.5" fill="#000"/>
<rect x="226.5" y="1045" width="3.6" height="12.2" fill="#000"/>
<rect x="260.0" y="1045" width="3.6" height="12.2" fill="#000"/>
<rect x="293.5" y="1045" width="3.6" height="12.2" fill="#000"/>
<rect x="327.0" y="1045" width="3.6" height="12.2" fill="#000"/>
<rect x="360.6" y="1045" width="3.6" height="12.2" fill="#000"/>
<rect x="394.1" y="1045" width="3.6" height="12.2" fill="#000"/>
<rect x="427.6" y="1045" width="3.6" height="12.2" fill="#000"/>
<rect x="461.1" y="1045" width="3.6" height="12.2" fill="#000"/>
<rect x="494.6" y="1045" width="3.6" height="12.2" fill="#000"/>
<rect x="528.1" y="1045" width="3.6" height="12.2" fill="#000"/>
<rect x="561.7" y="1045" width="3.6" height="12.2" fill="#000"/>
<rect x="595.2" y="1045" width="3.6" height="12.2" fill="#000"/>
<rect x="628.7" y="1045" width="3.6" height="12.2" fill="#000"/>
<rect x="662.2" y="1045" width="3.6" height="12.2" fill="#000"/>
<rect x="695.7" y="1045" width="3.6" height="12.2" fill="#000"/>
<rect x="729.2" y="1045" width="3.6" height="12.2" fill="#000"/>
<rect x="762.7" y="1045" width="3.6" height="12.2" fill="#000"/>
<rect x="796.3" y="1045" width="3.6" height="12.2" fill="#000"/>
<rect x="829.8" y="1045" width="3.6" height="12.2" fill="#000"/>
<rect x="863.3" y="1045" width="3.6" height="12.2" fill="#000"/>
<rect x="896.8" y="1045" width="3.6" height="12.2" fill="#000"/>
<circle cx="981.4" cy="604.5" r="9.1" fill="none" stroke="#AF1A19" stroke-width="4.6"/>
<circle cx="981.4" cy="649.4" r="9.1" fill="none" stroke="#000000" stroke-width="4.6"/>
<circle cx="981.4" cy="694" r="9.1" fill="none" stroke="#67A4F3" stroke-width="4.6"/>
<line x1="1356" y1="587.2" x2="1356" y2="1043" stroke="#000" stroke-width="2.6" stroke-dasharray="4.6 3.72"/>
<line x1="1493.1" y1="587.2" x2="1493.1" y2="1043" stroke="#000" stroke-width="2.6" stroke-dasharray="4.6 3.72"/>
<line x1="1628.4" y1="587.2" x2="1628.4" y2="1043" stroke="#000" stroke-width="2.6" stroke-dasharray="4.6 3.72"/>
<line x1="1763.4" y1="587.2" x2="1763.4" y2="1043" stroke="#000" stroke-width="2.6" stroke-dasharray="4.6 3.72"/>
<rect x="1246.9" y="1017.8" width="19.4" height="27.0" fill="#4CFA22"/>
<rect x="1276.1" y="676.2" width="19.4" height="368.6" fill="#F2F99E"/>
<rect x="1305.3" y="1026.8" width="19.4" height="18.0" fill="#96C2F5"/>
<rect x="1334.5" y="954.9" width="19.4" height="89.9" fill="#D4D4D4"/>
<rect x="1382.6" y="1026.8" width="19.4" height="18.0" fill="#4CFA22"/>
<rect x="1411.8" y="1017.8" width="19.4" height="27.0" fill="#F2F99E"/>
<rect x="1441.0" y="1035.8" width="19.4" height="9.0" fill="#96C2F5"/>
<rect x="1519.0" y="1035.8" width="19.4" height="9.0" fill="#4CFA22"/>
<rect x="1548.2" y="1026.8" width="19.4" height="18.0" fill="#F2F99E"/>
<rect x="1577.4" y="1035.8" width="19.4" height="9.0" fill="#96C2F5"/>
<rect x="1606.6" y="990.9" width="19.4" height="53.9" fill="#D4D4D4"/>
<rect x="1655.2" y="1026.8" width="19.4" height="18.0" fill="#4CFA22"/>
<rect x="1684.4" y="963.9" width="19.4" height="80.9" fill="#F2F99E"/>
<rect x="1791.9" y="1008.8" width="19.4" height="36.0" fill="#4CFA22"/>
<rect x="1821.1" y="972.9" width="19.4" height="71.9" fill="#F2F99E"/>
<rect x="1235.6" y="592.5" width="4.3" height="455" fill="#000"/>
<rect x="1223" y="952.7" width="15" height="4.4" fill="#000"/>
<rect x="1223" y="862.8" width="15" height="4.4" fill="#000"/>
<rect x="1223" y="772.9" width="15" height="4.4" fill="#000"/>
<rect x="1223" y="683.0" width="15" height="4.4" fill="#000"/>
<rect x="1223" y="593.1" width="15" height="4.4" fill="#000"/>
<rect x="1222" y="1042.7" width="690" height="4.6" fill="#000"/>
<rect x="1298.3" y="1045" width="4.5" height="14" fill="#000"/>
<rect x="1434.0" y="1045" width="4.5" height="14" fill="#000"/>
<rect x="1570.4" y="1045" width="4.5" height="14" fill="#000"/>
<rect x="1706.6" y="1045" width="4.5" height="14" fill="#000"/>
<rect x="1843.3" y="1045" width="4.5" height="14" fill="#000"/>
<rect x="1242.8" y="509.2" width="33" height="17.5" fill="#4CFA22"/>
<rect x="1242.8" y="555.3" width="33" height="17.5" fill="#F2F99E"/>
<rect x="1720.1" y="509.6" width="33" height="16.8" fill="#96C2F5"/>
<rect x="1720.1" y="555.6" width="33" height="16.8" fill="#D4D4D4"/>
<g font-family="'Liberation Serif','Times New Roman',Times,serif" fill="#000" stroke="#000" stroke-width="0.45">
<text font-size="27.60" font-weight="normal" text-anchor="start" transform="translate(36.80 226.50) scale(1 1.095) rotate(-53.60)">Histidine kinase (HK),</text>
<text font-size="27.60" font-weight="normal" text-anchor="start" transform="translate(65.70 243.30) scale(1 1.095) rotate(-53.60)">PAS domain</text>
<text font-size="27.60" font-weight="normal" text-anchor="start" transform="translate(94.60 264.50) scale(1 1.095) rotate(-53.60)">S-box-containing</text>
<text font-size="29.10" font-weight="normal" text-anchor="start" transform="translate(248.10 255.30) scale(1 1.095) rotate(-53.60)">ArlB</text>
<text font-size="29.10" font-weight="normal" text-anchor="start" transform="translate(324.10 255.30) scale(1 1.095) rotate(-53.60)">ArlD/E</text>
<text font-size="29.10" font-weight="normal" text-anchor="start" transform="translate(382.70 254.80) scale(1 1.095) rotate(-53.60)">ArlG</text>
<text font-size="29.10" font-weight="normal" text-anchor="start" transform="translate(427.30 255.80) scale(1 1.095) rotate(-53.60)">ArlF</text>
<text font-size="29.10" font-weight="normal" text-anchor="start" transform="translate(489.40 254.80) scale(1 1.095) rotate(-53.60)">ArlH</text>
<text font-size="29.10" font-weight="normal" text-anchor="start" transform="translate(575.80 254.80) scale(1 1.095) rotate(-53.60)">ArlI</text>
<text font-size="29.10" font-weight="normal" text-anchor="start" transform="translate(695.50 255.30) scale(1 1.095) rotate(-53.60)">ArlJ</text>
<text font-size="29.10" font-weight="normal" text-anchor="start" transform="translate(813.10 254.80) scale(1 1.095) rotate(-53.60)">Hyp.</text>
<text font-size="29.10" font-weight="normal" text-anchor="start" transform="translate(1493.10 252.50) scale(1 1.095) rotate(-53.60)">Hyp.</text>
<text font-size="29.10" font-weight="normal" text-anchor="start" transform="translate(1551.30 179.90) scale(1 1.095) rotate(-53.60)">MarR family</text>
<text font-size="29.10" font-weight="normal" text-anchor="start" transform="translate(1581.40 200.00) scale(1 1.095) rotate(-53.60)">Transcriptional</text>
<text font-size="29.10" font-weight="normal" text-anchor="start" transform="translate(1614.20 220.30) scale(1 1.095) rotate(-53.60)">regulators</text>
<text font-size="29.10" font-weight="normal" text-anchor="start" transform="translate(1698.20 262.20) scale(1 1.095) rotate(-53.60)">CheB</text>
<text font-size="29.10" font-weight="normal" text-anchor="start" transform="translate(1785.90 263.50) scale(1 1.095) rotate(-53.60)">MCP_2</text>
<text font-size="29.10" font-weight="normal" text-anchor="start" transform="translate(1871.50 266.00) scale(1 1.095) rotate(-53.60)">MCP_3</text>
<text font-size="29.10" font-weight="normal" text-anchor="start" transform="translate(1962.00 260.00) scale(1 1.095) rotate(-53.60)">Pilin-like</text>
<text font-size="29.10" font-weight="normal" text-anchor="start" transform="translate(859.50 461.60) scale(1 1.095) rotate(-53.60)">CheR</text>
<text font-size="29.10" font-weight="normal" text-anchor="start" transform="translate(920.80 466.80) scale(1 1.095) rotate(-53.60)">CheD</text>
<text font-size="29.10" font-weight="normal" text-anchor="start" transform="translate(969.90 467.80) scale(1 1.095) rotate(-53.60)">CheC</text>
<text font-size="29.10" font-weight="normal" text-anchor="start" transform="translate(1017.00 465.50) scale(1 1.095) rotate(-53.60)">CheY</text>
<text font-size="29.10" font-weight="normal" text-anchor="start" transform="translate(1061.70 467.00) scale(1 1.095) rotate(-53.60)">CheW</text>
<text font-size="29.10" font-weight="normal" text-anchor="start" transform="translate(1127.30 477.30) scale(1 1.095) rotate(-53.60)">MCP_1</text>
<text font-size="29.10" font-weight="normal" text-anchor="start" transform="translate(1174.60 477.20) scale(1 1.095) rotate(-53.60)">ATPase</text>
<text font-size="29.10" font-weight="normal" text-anchor="start" transform="translate(1278.60 467.20) scale(1 1.095) rotate(-53.60)">CheA</text>
<text font-size="29.10" font-weight="normal" text-anchor="start" transform="translate(1389.30 481.50) scale(1 1.095) rotate(-53.60)">ATPase</text>
<text font-size="29.10" font-weight="normal" text-anchor="start" transform="translate(1456.20 453.70) scale(1 1.095) rotate(-53.60)">Hyp.</text>
<text x="10.30" y="100.00" font-size="39.02" font-weight="bold" text-anchor="start">A</text>
<text x="13.00" y="565.10" font-size="38.81" font-weight="bold" text-anchor="start">B</text>
<text x="1147.00" y="567.20" font-size="39.00" font-weight="bold" text-anchor="start">C</text>
<text x="249.90" y="570.20" font-size="40.09" font-weight="normal" text-anchor="start">Archaella</text>
<text x="562.00" y="570.20" font-size="40.18" font-weight="normal" text-anchor="start">Chemotaxis</text>
<text x="195.40" y="590.50" font-size="24.00" font-weight="bold" text-anchor="end">10000</text>
<text x="195.40" y="706.30" font-size="24.00" font-weight="bold" text-anchor="end">1000</text>
<text x="195.40" y="822.30" font-size="24.00" font-weight="bold" text-anchor="end">100</text>
<text x="195.40" y="938.50" font-size="24.00" font-weight="bold" text-anchor="end">10</text>
<text x="195.40" y="1054.30" font-size="24.00" font-weight="bold" text-anchor="end">1</text>
<text x="79.80" y="808.90" font-size="30.41" font-weight="bold" text-anchor="middle" transform="rotate(-90.00 79.80 808.90)">Transcripts per million</text>
<text x="116.60" y="810.10" font-size="29.92" font-weight="bold" text-anchor="middle" transform="rotate(-90.00 116.60 810.10)">(TPM)</text>
<text x="1011.30" y="614.10" font-size="30.60" font-weight="normal" text-anchor="start">Lactate</text>
<text x="1011.30" y="659.00" font-size="30.60" font-weight="normal" text-anchor="start">Pyruvate</text>
<text x="1011.30" y="703.90" font-size="30.60" font-weight="normal" text-anchor="start">Acetate</text>
<text x="237.20" y="1076.80" font-size="25.00" font-weight="bold" text-anchor="end" transform="rotate(-52.00 237.20 1076.80)">ArlB</text>
<text x="270.71" y="1076.80" font-size="25.00" font-weight="bold" text-anchor="end" transform="rotate(-52.00 270.71 1076.80)">ArlD/E</text>
<text x="304.23" y="1076.80" font-size="25.00" font-weight="bold" text-anchor="end" transform="rotate(-52.00 304.23 1076.80)">ArlG</text>
<text x="337.75" y="1076.80" font-size="25.00" font-weight="bold" text-anchor="end" transform="rotate(-52.00 337.75 1076.80)">ArlF</text>
<text x="371.26" y="1076.80" font-size="25.00" font-weight="bold" text-anchor="end" transform="rotate(-52.00 371.26 1076.80)">ArlH</text>
<text x="404.77" y="1076.80" font-size="25.00" font-weight="bold" text-anchor="end" transform="rotate(-52.00 404.77 1076.80)">ArlI</text>
<text x="438.29" y="1076.80" font-size="25.00" font-weight="bold" text-anchor="end" transform="rotate(-52.00 438.29 1076.80)">ArlJ</text>
<text x="471.81" y="1076.80" font-size="25.00" font-weight="bold" text-anchor="end" transform="rotate(-52.00 471.81 1076.80)">HK</text>
<text x="505.32" y="1076.80" font-size="25.00" font-weight="bold" text-anchor="end" transform="rotate(-52.00 505.32 1076.80)">CheR</text>
<text x="538.83" y="1076.80" font-size="25.00" font-weight="bold" text-anchor="end" transform="rotate(-52.00 538.83 1076.80)">CheD</text>
<text x="572.35" y="1076.80" font-size="25.00" font-weight="bold" text-anchor="end" transform="rotate(-52.00 572.35 1076.80)">CheC</text>
<text x="605.87" y="1076.80" font-size="25.00" font-weight="bold" text-anchor="end" transform="rotate(-52.00 605.87 1076.80)">CheY</text>
<text x="639.38" y="1076.80" font-size="25.00" font-weight="bold" text-anchor="end" transform="rotate(-52.00 639.38 1076.80)">CheW</text>
<text x="672.89" y="1076.80" font-size="25.00" font-weight="bold" text-anchor="end" transform="rotate(-52.00 672.89 1076.80)">MCP_1</text>
<text x="706.41" y="1076.80" font-size="25.00" font-weight="bold" text-anchor="end" transform="rotate(-52.00 706.41 1076.80)">CheA</text>
<text x="739.93" y="1076.80" font-size="25.00" font-weight="bold" text-anchor="end" transform="rotate(-52.00 739.93 1076.80)">MarR_1</text>
<text x="773.44" y="1076.80" font-size="25.00" font-weight="bold" text-anchor="end" transform="rotate(-52.00 773.44 1076.80)">MarR_2</text>
<text x="806.96" y="1076.80" font-size="25.00" font-weight="bold" text-anchor="end" transform="rotate(-52.00 806.96 1076.80)">CheB</text>
<text x="840.47" y="1076.80" font-size="25.00" font-weight="bold" text-anchor="end" transform="rotate(-52.00 840.47 1076.80)">MCP_2</text>
<text x="873.99" y="1076.80" font-size="25.00" font-weight="bold" text-anchor="end" transform="rotate(-52.00 873.99 1076.80)">MCP_3</text>
<text x="907.50" y="1076.80" font-size="25.00" font-weight="bold" text-anchor="end" transform="rotate(-52.00 907.50 1076.80)">Pilin-like</text>
<text x="1216.40" y="1055.30" font-size="29.00" font-weight="bold" text-anchor="end">0</text>
<text x="1216.40" y="965.40" font-size="29.00" font-weight="bold" text-anchor="end">10</text>
<text x="1216.40" y="875.50" font-size="29.00" font-weight="bold" text-anchor="end">20</text>
<text x="1216.40" y="785.60" font-size="29.00" font-weight="bold" text-anchor="end">30</text>
<text x="1216.40" y="695.70" font-size="29.00" font-weight="bold" text-anchor="end">40</text>
<text x="1216.40" y="605.80" font-size="29.00" font-weight="bold" text-anchor="end">50</text>
<text x="1171.90" y="817.20" font-size="30.33" font-weight="bold" text-anchor="middle" transform="rotate(-90.00 1171.90 817.20)"># Cells</text>
<text x="1295.10" y="526.70" font-size="26.90" font-weight="normal" text-anchor="start">Archaella (+) Chemoreceptor (+)</text>
<text x="1295.10" y="572.50" font-size="26.90" font-weight="normal" text-anchor="start">Archaella (+) Chemoreceptor (-)</text>
<text x="1772.40" y="526.10" font-size="26.91" font-weight="normal" text-anchor="start">Archaella (-) Chemoreceptor (+)</text>
<text x="1772.10" y="572.00" font-size="26.90" font-weight="normal" text-anchor="start">Archaella (-) Chemoreceptor (-)</text>
<text x="1311.30" y="1085.00" font-size="30.70" font-weight="bold" text-anchor="end" transform="rotate(-46.00 1311.30 1085.00)">Lactate</text>
<text x="1447.00" y="1085.00" font-size="30.70" font-weight="bold" text-anchor="end" transform="rotate(-46.00 1447.00 1085.00)">Lactate-new</text>
<text x="1583.40" y="1085.00" font-size="30.70" font-weight="bold" text-anchor="end" transform="rotate(-46.00 1583.40 1085.00)">BES-treated</text>
<text x="1719.60" y="1085.00" font-size="30.70" font-weight="bold" text-anchor="end" transform="rotate(-46.00 1719.60 1085.00)">Pyruvate</text>
<text x="1856.30" y="1085.00" font-size="30.70" font-weight="bold" text-anchor="end" transform="rotate(-46.00 1856.30 1085.00)">Acetate</text>
<text x="1256.60" y="1006.83" font-size="21.00" font-weight="normal" text-anchor="middle">3</text>
<text x="1285.80" y="665.21" font-size="21.00" font-weight="normal" text-anchor="middle">41</text>
<text x="1315.00" y="1015.82" font-size="21.00" font-weight="normal" text-anchor="middle">2</text>
<text x="1344.20" y="943.90" font-size="21.00" font-weight="normal" text-anchor="middle">10</text>
<text x="1392.30" y="1015.82" font-size="21.00" font-weight="normal" text-anchor="middle">2</text>
<text x="1421.50" y="1006.83" font-size="21.00" font-weight="normal" text-anchor="middle">3</text>
<text x="1450.70" y="1024.81" font-size="21.00" font-weight="normal" text-anchor="middle">1</text>
<text x="1479.90" y="1033.80" font-size="21.00" font-weight="normal" text-anchor="middle">0</text>
<text x="1528.70" y="1024.81" font-size="21.00" font-weight="normal" text-anchor="middle">1</text>
<text x="1557.90" y="1015.82" font-size="21.00" font-weight="normal" text-anchor="middle">2</text>
<text x="1587.10" y="1024.81" font-size="21.00" font-weight="normal" text-anchor="middle">1</text>
<text x="1616.30" y="979.86" font-size="21.00" font-weight="normal" text-anchor="middle">6</text>
<text x="1664.90" y="1015.82" font-size="21.00" font-weight="normal" text-anchor="middle">2</text>
<text x="1694.10" y="952.89" font-size="21.00" font-weight="normal" text-anchor="middle">9</text>
<text x="1723.30" y="1033.80" font-size="21.00" font-weight="normal" text-anchor="middle">0</text>
<text x="1752.50" y="1033.80" font-size="21.00" font-weight="normal" text-anchor="middle">0</text>
<text x="1801.60" y="997.84" font-size="21.00" font-weight="normal" text-anchor="middle">4</text>
<text x="1830.80" y="961.88" font-size="21.00" font-weight="normal" text-anchor="middle">8</text>
<text x="1860.00" y="1033.80" font-size="21.00" font-weight="normal" text-anchor="middle">0</text>
<text x="1889.20" y="1033.80" font-size="21.00" font-weight="normal" text-anchor="middle">0</text>
</g>
</svg>
</body></html>
